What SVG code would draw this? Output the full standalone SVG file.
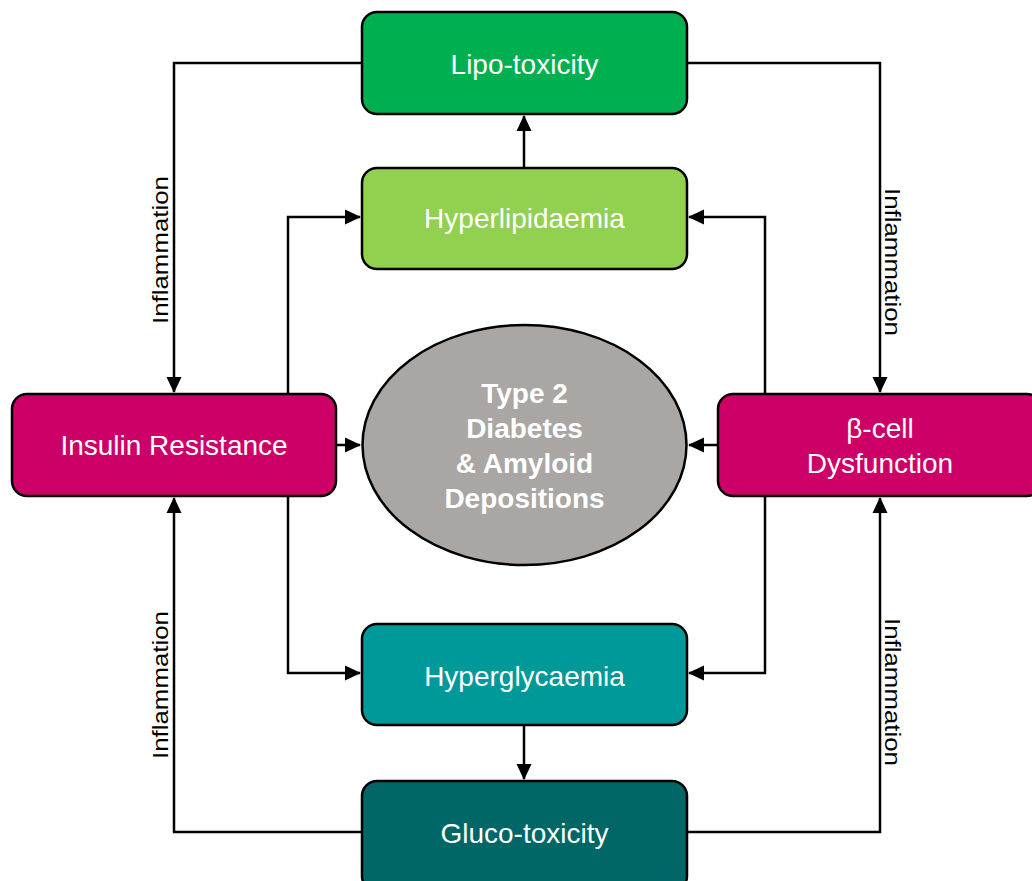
<svg xmlns="http://www.w3.org/2000/svg" width="1032" height="881" viewBox="0 0 1032 881">
<style>
.box{stroke:#000;stroke-width:2.5}
.lbl{font-family:"Liberation Sans",Arial,sans-serif;font-size:28px;fill:#fff;text-anchor:middle}
.big{font-family:"Liberation Sans",Arial,sans-serif;font-size:28px;font-weight:bold;fill:#fff;text-anchor:middle}
.inf{font-family:"Liberation Sans",Arial,sans-serif;font-size:22px;fill:#000;text-anchor:middle}
.ln{fill:none;stroke:#000;stroke-width:2.5}
</style>
<defs>
<marker id="arr" markerUnits="userSpaceOnUse" markerWidth="16" markerHeight="16" viewBox="0 0 16 16" refX="15" refY="8" orient="auto">
<path d="M0,0.5 L16,8 L0,15.5 Z" fill="#000"/>
</marker>
</defs>
<rect width="1032" height="881" fill="#fff"/>
<g id="connectors">
<polyline class="ln" points="362,63 174,63 174,392" marker-end="url(#arr)"/>
<polyline class="ln" points="687,63 880,63 880,392" marker-end="url(#arr)"/>
<polyline class="ln" points="362,832 174,832 174,498" marker-end="url(#arr)"/>
<polyline class="ln" points="687,832 880,832 880,498" marker-end="url(#arr)"/>
<line class="ln" x1="524" y1="168" x2="524" y2="116" marker-end="url(#arr)"/>
<line class="ln" x1="524" y1="725" x2="524" y2="779" marker-end="url(#arr)"/>
<polyline class="ln" points="288,394 288,217 360,217" marker-end="url(#arr)"/>
<polyline class="ln" points="288,496 288,673 360,673" marker-end="url(#arr)"/>
<polyline class="ln" points="765,394 765,217 689,217" marker-end="url(#arr)"/>
<polyline class="ln" points="765,496 765,673 689,673" marker-end="url(#arr)"/>
<line class="ln" x1="336" y1="445" x2="360" y2="445" marker-end="url(#arr)"/>
<line class="ln" x1="718" y1="445" x2="689" y2="445" marker-end="url(#arr)"/>
<text class="inf" transform="translate(168,250) rotate(-90)" textLength="148" lengthAdjust="spacingAndGlyphs">Inflammation</text>
<text class="inf" transform="translate(168,685) rotate(-90)" textLength="148" lengthAdjust="spacingAndGlyphs">Inflammation</text>
<text class="inf" transform="translate(885,262) rotate(90)" textLength="148" lengthAdjust="spacingAndGlyphs">Inflammation</text>
<text class="inf" transform="translate(885,692) rotate(90)" textLength="148" lengthAdjust="spacingAndGlyphs">Inflammation</text>
</g>
<g id="lipo">
<rect class="box" x="362" y="12" width="325" height="102" rx="15" fill="#00B050"/>
<text class="lbl" x="524.5" y="74">Lipo-toxicity</text>
</g>
<g id="hyperlipid">
<rect class="box" x="362" y="168" width="325" height="101" rx="15" fill="#92D050"/>
<text class="lbl" x="524.5" y="228">Hyperlipidaemia</text>
</g>
<g id="insulin">
<rect class="box" x="12" y="394" width="324" height="102" rx="15" fill="#CC0066"/>
<text class="lbl" x="174" y="455">Insulin Resistance</text>
</g>
<g id="betacell">
<rect class="box" x="718" y="394" width="324" height="102" rx="15" fill="#CC0066"/>
<text class="lbl" x="880" y="438">β-cell</text>
<text class="lbl" x="880" y="473">Dysfunction</text>
</g>
<g id="t2d">
<ellipse class="box" cx="524.5" cy="445" rx="162" ry="120" fill="#A9A6A4"/>
<text class="big" x="524.5" y="403">Type 2</text>
<text class="big" x="524.5" y="438">Diabetes</text>
<text class="big" x="524.5" y="473">&amp; Amyloid</text>
<text class="big" x="524.5" y="508">Depositions</text>
</g>
<g id="hyperglyc">
<rect class="box" x="362" y="624" width="325" height="101" rx="15" fill="#009999"/>
<text class="lbl" x="524.5" y="686">Hyperglycaemia</text>
</g>
<g id="gluco">
<rect class="box" x="362" y="781" width="325" height="110" rx="15" fill="#006666"/>
<text class="lbl" x="524.5" y="843">Gluco-toxicity</text>
</g>
</svg>
